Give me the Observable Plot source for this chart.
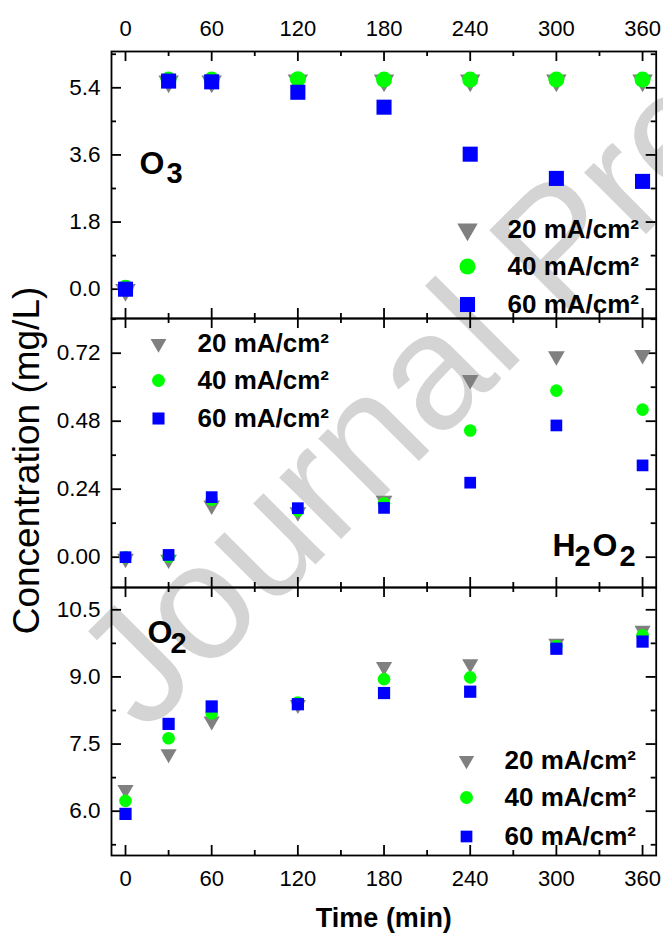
<!DOCTYPE html>
<html><head><meta charset="utf-8">
<script src="https://cdn.jsdelivr.net/npm/d3@7"></script>
<script src="https://cdn.jsdelivr.net/npm/@observablehq/plot@0.6"></script>
<style>
html,body{margin:0;padding:0;background:#fff;}
#chart{position:relative;width:663px;height:933px;overflow:hidden;background:#fff;}
#chart > svg{position:absolute;left:0;}
</style></head><body><div id="chart"></div>
<script>
// ---------- data ----------
const times = [0, 30, 60, 120, 180, 240, 300, 360];
const seriesNames = ["20 mA/cm²", "40 mA/cm²", "60 mA/cm²"];

const o3_20 = [-0.02, 5.57, 5.57, 5.6, 5.6, 5.6, 5.6, 5.6];
const o3_40 = [0.04, 5.62, 5.62, 5.63, 5.62, 5.62, 5.62, 5.62];
const o3_60 = [0.0, 5.58, 5.56, 5.28, 4.88, 3.62, 2.97, 2.89];

const h2o2_20 = [-0.005, -0.008, 0.183, 0.159, 0.2, 0.626, 0.71, 0.714];
const h2o2_40 = [0.0, 0.002, 0.203, 0.165, 0.19, 0.447, 0.588, 0.521];
const h2o2_60 = [0.0, 0.008, 0.212, 0.173, 0.174, 0.263, 0.465, 0.324];

const o2_20 = [6.48, 7.28, 8.01, 8.38, 9.23, 9.29, 9.75, 10.04];
const o2_40 = [6.23, 7.63, 8.19, 8.43, 8.95, 8.99, 9.69, 9.93];
const o2_60 = [5.94, 7.95, 8.34, 8.39, 8.64, 8.67, 9.63, 9.79];

const xTicks = [0, 60, 120, 180, 240, 300, 360];
const xMinor = [30, 90, 150, 210, 270, 330];
const o3Ticks = [0, 1.8, 3.6, 5.4];
const o3Minor = [0.9, 2.7, 4.5, 6.3];
const h2o2Ticks = [0, 0.24, 0.48, 0.72];
const h2o2Minor = [0.12, 0.36, 0.6, 0.84];
const o2Ticks = [6, 7.5, 9, 10.5];
const o2Minor = [5.25, 6.75, 8.25, 9.75];

// ---------- layout ----------
const FONT = '"Liberation Sans", Arial, Helvetica, sans-serif';
const W = 663, ML = 111, MR = 7.3;
const FW = W - ML - MR;
const xDomain = [-9.75, 369.5];
const seriesStyle = [
  {symbol: "triangle", rotate: 180, fill: "#808080"},
  {symbol: "circle", fill: "#00ff00"},
  {symbol: "square", fill: "#0000ff"}
];
const rows = (vals) => times.map((t, i) => ({t, v: vals[i]}));

const panels = [
  {top: 0, height: 318, mt: 51, mb: 0, yDomain: [-0.786, 6.373],
   yTicks: o3Ticks, yMinor: o3Minor, fmt: d3.format(".1f"),
   series: [o3_20, o3_40, o3_60], r: [7.6, 8, 8.5],
   legend: {sym: 467, txt: 507, rows: [229, 266, 304], r: [7.6, 8, 8.5]},
   labels: [{t: "O", x: 139, y: 173, s: 32}, {t: "3", x: 166, y: 182, s: 29}],
   topAxis: true},
  {top: 318, height: 269, mt: 0, mb: 0, yDomain: [-0.107, 0.8425],
   yTicks: h2o2Ticks, yMinor: h2o2Minor, fmt: d3.format(".2f"),
   series: [h2o2_20, h2o2_40, h2o2_60], r: [6.2, 6.3, 6.6],
   legend: {sym: 158, txt: 197, rows: [343, 380, 418], r: [5.9, 6.5, 6.8]},
   labels: [{t: "H", x: 552, y: 555, s: 32}, {t: "2", x: 574, y: 565, s: 29},
            {t: "O", x: 592, y: 555, s: 32}, {t: "2", x: 619, y: 565, s: 29}],
   yTitle: true},
  {top: 587, height: 346, mt: 0, mb: 78, yDomain: [5.01, 10.998],
   yTicks: o2Ticks, yMinor: o2Minor, fmt: d3.format(".1f"),
   series: [o2_20, o2_40, o2_60], r: [6.0, 6.3, 6.9],
   legend: {sym: 466, txt: 504, rows: [760, 797, 836], r: [5.7, 6.5, 6.6]},
   labels: [{t: "O", x: 147, y: 642, s: 32}, {t: "2", x: 170, y: 652, s: 29}],
   bottomAxis: true}
];

const chart = document.getElementById("chart");

// watermark (background)
const wm = d3.select(chart).append("svg")
  .attr("width", W).attr("height", 933).style("top", "0px");
wm.append("text")
  .attr("transform", "translate(145,735) rotate(-45)")
  .attr("font-family", FONT).attr("font-size", 165)
  .attr("fill", "#d4d4d4")
  .text("Journal Pre-proof");

function makePanel(p) {
  const FH = p.height - p.mt - p.mb;
  const ink = {stroke: "black", strokeWidth: 1.8};
  const marks = [];
  // inward ticks on all four sides
  marks.push(Plot.tickX(xTicks, {x: d => d, insetTop: FH - 10, ...ink}));
  marks.push(Plot.tickX(xTicks, {x: d => d, insetBottom: FH - 10, ...ink}));
  marks.push(Plot.tickX(xMinor, {x: d => d, insetTop: FH - 5, ...ink}));
  marks.push(Plot.tickX(xMinor, {x: d => d, insetBottom: FH - 5, ...ink}));
  marks.push(Plot.tickY(p.yTicks, {y: d => d, insetRight: FW - 10, ...ink}));
  marks.push(Plot.tickY(p.yTicks, {y: d => d, insetLeft: FW - 10, ...ink}));
  marks.push(Plot.tickY(p.yMinor, {y: d => d, insetRight: FW - 5, ...ink}));
  marks.push(Plot.tickY(p.yMinor, {y: d => d, insetLeft: FW - 5, ...ink}));
  marks.push(Plot.frame({stroke: "black", strokeWidth: 1.8}));
  marks.push(Plot.axisY({ticks: p.yTicks, tickFormat: p.fmt, tickSize: 0, tickPadding: 11,
    anchor: "left", label: null, fontSize: 22.5, fill: "black"}));
  if (p.topAxis) marks.push(Plot.axisX({ticks: xTicks, tickFormat: d3.format("d"), tickSize: 0,
    tickPadding: 16, anchor: "top", label: null, fontSize: 22, fill: "black"}));
  if (p.bottomAxis) marks.push(Plot.axisX({ticks: xTicks, tickFormat: d3.format("d"), tickSize: 0,
    tickPadding: 15, anchor: "bottom", label: null, fontSize: 22, fill: "black"}));
  // data
  p.series.forEach((vals, i) => {
    marks.push(Plot.dot(rows(vals), {x: "t", y: "v", r: p.r[i], ...seriesStyle[i]}));
  });
  // legend
  const L = p.legend;
  seriesNames.forEach((name, i) => {
    const dy = L.rows[i] - p.top - p.mt;
    marks.push(Plot.dot([name], {frameAnchor: "top-left", dx: L.sym - ML, dy,
      r: L.r[i], ...seriesStyle[i]}));
    marks.push(Plot.text([name], {text: d => d, frameAnchor: "top-left", dx: L.txt - ML, dy,
      textAnchor: "start", lineAnchor: "middle", fontSize: 26, fontWeight: "bold", fill: "black"}));
  });
  // species label (main letters + subscripts)
  p.labels.forEach(l => {
    marks.push(Plot.text([l.t], {text: d => d, frameAnchor: "top-left",
      dx: l.x - ML, dy: l.y - p.top - p.mt, textAnchor: "start", lineAnchor: "bottom",
      fontSize: l.s, fontWeight: "bold", fill: "black"}));
  });
  if (p.yTitle) marks.push(Plot.text(["Concentration (mg/L)"], {text: d => d,
    frameAnchor: "left", dx: 27 - ML, dy: 460 - (p.top + p.height / 2), rotate: -90,
    textAnchor: "middle", lineAnchor: "middle", fontSize: 37, fill: "black"}));
  if (p.bottomAxis) marks.push(Plot.text(["Time (min)"], {text: d => d,
    frameAnchor: "bottom", dy: 63, textAnchor: "middle", lineAnchor: "middle",
    fontSize: 27, fontWeight: "bold", fill: "black"}));

  const svg = Plot.plot({
    width: W, height: p.height,
    marginLeft: ML, marginRight: MR, marginTop: p.mt, marginBottom: p.mb,
    x: {domain: xDomain, axis: null, label: null},
    y: {domain: p.yDomain, axis: null, label: null},
    style: {fontFamily: FONT, fontSize: "22px", overflow: "visible", background: "transparent", color: "black"},
    marks
  });
  svg.style.position = "absolute";
  svg.style.top = p.top + "px";
  svg.style.left = "0px";
  chart.appendChild(svg);
}
panels.forEach(makePanel);
</script></body></html>
